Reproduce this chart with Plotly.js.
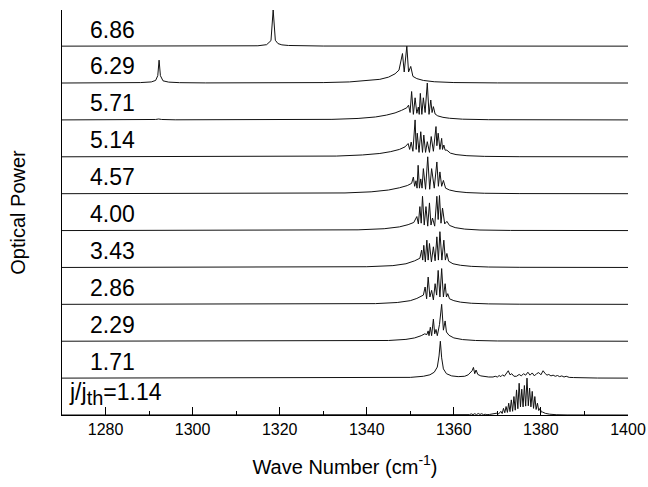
<!DOCTYPE html>
<html>
<head>
<meta charset="utf-8">
<script src="https://cdn.plot.ly/plotly-3.0.1.min.js"></script>
<style>html,body{margin:0;padding:0;background:#fff;}#chart{width:648px;height:487px;}</style>
</head>
<body>
<div id="chart"></div>
<script>
// current-density labels (bottom to top)
const levelLabels = ['j/j<sub><span style="font-size:20px">th</span></sub>=1.14','1.71','2.29','2.86','3.43','4.00','4.57','5.14','5.71','6.29','6.86'];
const xTickVals = [1280,1300,1320,1340,1360,1380,1400];

// spectra: [wave number, relative optical power]
const spec_114 = [[1270,0],[1355,0.001],[1360,0.004],[1362.5,0.006],[1363.2,0.02],[1363.6,0.01],[1364.0,0.03],[1364.4,0.01],[1364.8,0.035],[1365.2,0.01],[1365.6,0.04],[1366.0,0.015],[1366.4,0.035],[1366.8,0.01],[1367.2,0.02],[1367.6,0.008],[1368.2,0.015],[1368.8,0.03],[1369.4,0.025],[1369.9,0.05],[1370.3,0.03],[1370.8,0.1],[1371.1,0.04],[1371.4,0.18],[1371.7,0.06],[1372.0,0.23],[1372.3,0.07],[1372.6,0.32],[1372.9,0.09],[1373.2,0.41],[1373.5,0.1],[1373.8,0.5],[1374.1,0.13],[1374.4,0.68],[1374.7,0.17],[1375.0,0.86],[1375.3,0.22],[1375.6,0.7],[1375.9,0.22],[1376.2,0.8],[1376.5,0.24],[1376.8,1.0],[1377.1,0.25],[1377.4,0.73],[1377.7,0.22],[1378.0,0.64],[1378.3,0.18],[1378.6,0.5],[1378.9,0.15],[1379.2,0.32],[1379.5,0.12],[1379.8,0.18],[1380.1,0.08],[1380.4,0.08],[1381,0.045],[1382,0.022],[1383.5,0.008],[1386,0.002],[1400,0]];
const spec_171 = [[1270,0],[1345,0.005],[1350,0.02],[1353,0.05],[1354.5,0.09],[1355.5,0.16],[1356.2,0.3],[1356.6,0.6],[1356.9,1.0],[1357.2,0.55],[1357.6,0.25],[1358.3,0.12],[1359.5,0.06],[1361,0.04],[1362.5,0.05],[1363.3,0.09],[1363.8,0.14],[1364.2,0.2],[1364.5,0.29],[1364.8,0.12],[1365.1,0.22],[1365.5,0.1],[1366.2,0.06],[1367,0.04],[1368,0.03],[1369,0.03],[1369.5,0.05],[1370,0.03],[1370.4,0.07],[1370.8,0.04],[1371.2,0.09],[1371.6,0.05],[1372.0,0.12],[1372.5,0.2],[1372.9,0.09],[1373.3,0.12],[1373.8,0.05],[1374.4,0.05],[1375.0,0.1],[1375.5,0.06],[1376.0,0.12],[1376.5,0.08],[1377.0,0.16],[1377.5,0.08],[1378.0,0.14],[1378.5,0.06],[1379.0,0.12],[1379.5,0.15],[1380.0,0.09],[1380.5,0.2],[1381.0,0.12],[1381.4,0.08],[1381.8,0.1],[1382.3,0.06],[1382.8,0.08],[1383.3,0.05],[1383.8,0.07],[1384.3,0.04],[1384.8,0.06],[1385.3,0.03],[1385.8,0.05],[1386.5,0.02],[1387.5,0.015],[1388.5,0.01],[1389,0.025],[1389.5,0.01],[1390,0.02],[1391,0.005],[1393,0.002],[1400,0]];
const spec_229 = [[1270,0],[1335,0.005],[1345,0.02],[1349,0.05],[1351,0.09],[1352.5,0.15],[1353.3,0.2],[1353.8,0.18],[1354.1,0.28],[1354.3,0.15],[1354.6,0.38],[1354.9,0.15],[1355.3,0.6],[1355.6,0.2],[1355.9,0.32],[1356.2,0.15],[1356.7,0.45],[1357.2,1.0],[1357.6,0.3],[1358.0,0.55],[1358.3,0.25],[1358.9,0.16],[1360,0.09],[1362,0.045],[1365,0.02],[1370,0.007],[1380,0.002],[1400,0]];
const spec_286 = [[1270,0],[1330,0.005],[1342,0.02],[1347,0.05],[1350,0.1],[1351.5,0.16],[1352.5,0.22],[1353.0,0.25],[1353.4,0.47],[1353.75,0.15],[1354.1,0.74],[1354.5,0.2],[1354.9,0.38],[1355.3,0.12],[1355.7,0.56],[1356.05,0.25],[1356.4,0.92],[1356.8,0.2],[1357.2,0.97],[1357.6,0.2],[1358.0,0.56],[1358.3,0.2],[1358.6,0.29],[1359.0,0.15],[1360,0.1],[1361.5,0.06],[1364,0.03],[1368,0.012],[1375,0.004],[1400,0]];
const spec_343 = [[1270,0],[1328,0.005],[1340,0.02],[1346,0.05],[1349,0.1],[1351,0.18],[1352.2,0.25],[1352.6,0.47],[1352.85,0.2],[1353.1,0.6],[1353.45,0.15],[1353.8,0.74],[1354.1,0.2],[1354.4,0.65],[1354.85,0.15],[1355.3,0.56],[1355.7,0.18],[1356.1,0.83],[1356.45,0.2],[1356.8,0.97],[1357.25,0.2],[1357.7,0.74],[1358.05,0.2],[1358.4,0.38],[1358.8,0.17],[1359.8,0.1],[1361.5,0.06],[1364,0.03],[1368,0.012],[1375,0.004],[1400,0]];
const spec_400 = [[1270,0],[1325,0.005],[1338,0.02],[1344,0.05],[1347.5,0.1],[1349.5,0.16],[1350.8,0.22],[1351.5,0.38],[1351.85,0.18],[1352.2,0.65],[1352.5,0.2],[1352.8,0.93],[1353.2,0.15],[1353.6,0.65],[1354.0,0.12],[1354.4,0.75],[1354.75,0.15],[1355.1,0.34],[1355.6,0.12],[1356.1,0.93],[1356.4,0.3],[1356.7,0.95],[1357.05,0.2],[1357.4,0.61],[1357.9,0.18],[1358.4,0.25],[1359,0.14],[1360.3,0.08],[1362.5,0.04],[1366,0.015],[1373,0.004],[1400,0]];
const spec_457 = [[1270,0],[1322,0.005],[1335,0.02],[1341,0.05],[1345,0.1],[1347.5,0.16],[1349.3,0.22],[1350.3,0.28],[1350.7,0.45],[1351.0,0.2],[1351.3,0.35],[1351.55,0.15],[1351.8,0.77],[1352.1,0.15],[1352.4,0.4],[1352.7,0.15],[1353.0,0.68],[1353.5,0.12],[1354.0,1.0],[1354.45,0.12],[1354.9,0.68],[1355.5,0.15],[1356.1,0.86],[1356.45,0.2],[1356.8,0.59],[1357.2,0.2],[1357.6,0.36],[1358.1,0.15],[1359,0.1],[1360.5,0.06],[1363,0.03],[1367,0.012],[1375,0.003],[1400,0]];
const spec_514 = [[1270,0],[1320,0.005],[1333,0.02],[1339,0.05],[1343,0.09],[1345.5,0.14],[1347.5,0.2],[1348.8,0.27],[1349.5,0.36],[1349.85,0.2],[1350.2,0.4],[1350.6,0.15],[1351.1,1.0],[1351.35,0.2],[1351.6,0.64],[1352.0,0.12],[1352.4,0.68],[1352.8,0.12],[1353.1,0.59],[1353.5,0.12],[1353.9,0.41],[1354.4,0.12],[1354.8,0.55],[1355.3,0.15],[1355.9,0.82],[1356.1,0.3],[1356.4,0.64],[1356.8,0.2],[1357.2,0.5],[1357.4,0.2],[1357.7,0.32],[1358.0,0.18],[1358.4,0.18],[1359.2,0.1],[1360.5,0.06],[1363,0.03],[1367,0.012],[1375,0.003],[1400,0]];
const spec_571 = [[1270,0],[1288,0.003],[1291.5,0.012],[1292.2,0.025],[1292.9,0.012],[1296,0.003],[1318,0.003],[1332,0.015],[1338,0.04],[1342,0.08],[1344.5,0.13],[1346.5,0.19],[1348,0.26],[1349.2,0.33],[1349.6,0.4],[1349.95,0.2],[1350.3,0.77],[1350.7,0.15],[1351.1,0.6],[1351.5,0.18],[1351.85,0.35],[1352.05,0.15],[1352.3,0.72],[1352.65,0.15],[1353.0,0.6],[1353.4,0.2],[1353.9,1.0],[1354.3,0.15],[1354.7,0.54],[1355.0,0.2],[1355.3,0.36],[1355.7,0.16],[1356.3,0.11],[1357.5,0.07],[1359,0.045],[1362,0.02],[1368,0.006],[1380,0.001],[1400,0]];
const spec_629 = [[1270,0],[1282,0.004],[1288,0.012],[1290.5,0.03],[1291.5,0.07],[1292.0,0.2],[1292.3,0.62],[1292.6,0.2],[1293.2,0.06],[1294.5,0.025],[1297,0.01],[1303,0.003],[1318,0.003],[1330,0.012],[1336,0.03],[1340,0.06],[1343,0.1],[1345,0.16],[1346.5,0.25],[1347.4,0.35],[1347.8,0.55],[1348.2,0.8],[1348.6,0.3],[1349.2,1.0],[1349.6,0.3],[1350.1,0.45],[1350.6,0.18],[1351.5,0.12],[1353,0.07],[1355.5,0.035],[1360,0.013],[1370,0.003],[1400,0]];
const spec_686 = [[1270,0],[1310,0.003],[1315,0.01],[1317,0.04],[1318,0.15],[1318.5,0.98],[1319,0.16],[1319.6,0.07],[1320.5,0.035],[1322,0.018],[1325,0.008],[1330,0.003],[1400,0]];

const spectra = [spec_114,spec_171,spec_229,spec_286,spec_343,spec_400,spec_457,spec_514,spec_571,spec_629,spec_686];

const FONT = '"Liberation Sans", Arial, sans-serif';
const traces = spectra.map((s, i) => ({
  x: s.map(p => p[0]),
  y: s.map(p => p[1] + i),
  type: 'scatter', mode: 'lines',
  line: {color: '#111', width: 1},
  hoverinfo: 'skip', showlegend: false
}));

const annotations = levelLabels.map((t, i) => ({
  text: t, xref: 'x', yref: 'y',
  x: i === 0 ? 1271.2 : 1275.9, y: i + (i === 0 ? 0.58 : 0.45),
  xanchor: 'left', yanchor: 'middle', showarrow: false,
  font: {family: FONT, size: 23, color: '#000'}
}));

const layout = {
  width: 648, height: 487,
  margin: {l: 62, r: 20, t: 10, b: 72},
  paper_bgcolor: '#fff', plot_bgcolor: '#fff',
  font: {family: FONT, color: '#000'},
  xaxis: {
    range: [1270, 1400], tickmode: 'array', tickvals: xTickVals,
    ticks: 'inside', ticklen: 8, tickwidth: 1, tickcolor: '#000',
    minor: {dtick: 10, tick0: 1270, ticks: 'inside', ticklen: 4, tickcolor: '#000', showgrid: false},
    showline: true, linecolor: '#000', linewidth: 1, mirror: false,
    showgrid: false, zeroline: false,
    tickfont: {family: FONT, size: 16, color: '#000'},
    title: {text: 'Wave Number (cm<sup>-1</sup>)', font: {family: FONT, size: 20, color: '#000'}, standoff: 22}
  },
  yaxis: {
    range: [0, 10.98], tickmode: 'array', tickvals: [10.98],
    ticks: 'inside', ticklen: 4, tickcolor: '#000',
    showline: true, linecolor: '#000', linewidth: 1, mirror: false,
    showgrid: false, zeroline: false, showticklabels: false,
    title: {text: 'Optical Power', font: {family: FONT, size: 20, color: '#000'}, standoff: 30}
  },
  annotations: annotations
};

Plotly.newPlot('chart', traces, layout, {displayModeBar: false, staticPlot: true});
</script>
</body>
</html>
